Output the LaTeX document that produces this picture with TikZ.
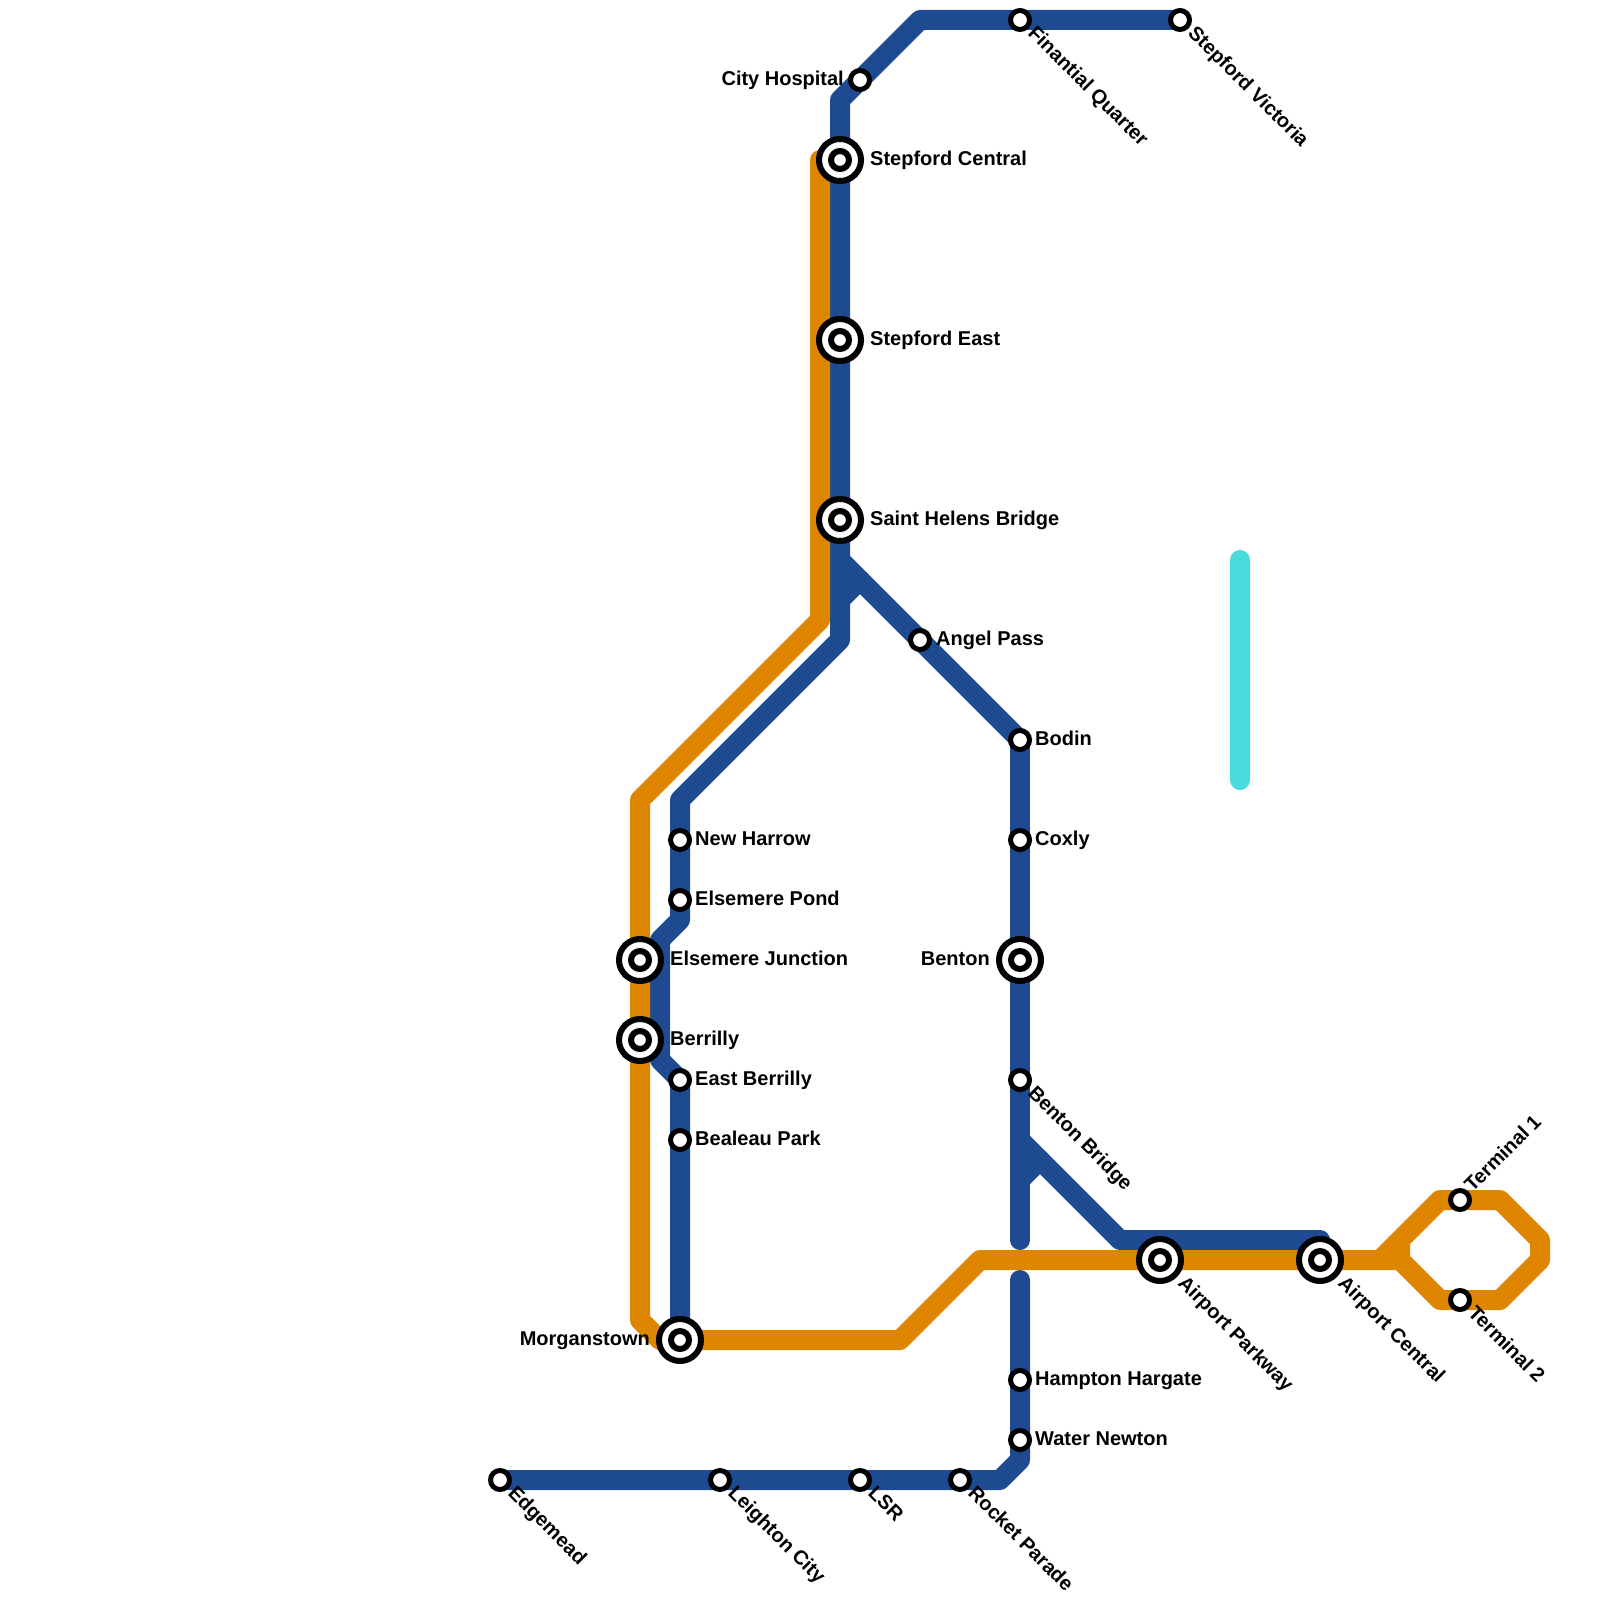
\documentclass[tikz,border=0pt]{standalone}
\usepackage{fontspec}
\setmainfont{Liberation Sans}
\usetikzlibrary{backgrounds}
\definecolor{lineblue}{HTML}{1D4A91}
\definecolor{lineorange}{HTML}{DF8600}
\definecolor{linecyan}{HTML}{48DBDB}
\tikzset{
  metro/.style={line width=20pt,line join=round,line cap=round},
  smallst/.style={circle,draw=black,fill=white,line width=5pt,minimum size=19pt,inner sep=0pt},
  bigouter/.style={circle,draw=black,fill=white,line width=6pt,minimum size=42pt,inner sep=0pt},
  biginner/.style={circle,draw=black,fill=white,line width=6pt,minimum size=18pt,inner sep=0pt},
  lab/.style={font=\bfseries\fontsize{20}{22}\selectfont,inner sep=0pt,text=black},
}
\newcommand{\smallnode}[2]{\node[smallst] (#1) at (#2) {};}
\newcommand{\bignode}[2]{\node[bigouter] (#1) at (#2) {};\node[biginner] (#1i) at (#2) {};}
\begin{document}
\begin{tikzpicture}[x=1pt,y=-1pt]
\useasboundingbox (0,0) rectangle (1600,1600);
% bends
\coordinate (b1) at (920,20);
\coordinate (b2) at (840,100);
\coordinate (b3) at (840,640);
\coordinate (b4) at (680,800);
\coordinate (b5) at (680,920);
\coordinate (b6) at (660,940);
\coordinate (b7) at (660,1060);
\coordinate (b8) at (840,560);
\coordinate (b9) at (860,580);
\coordinate (b10) at (840,600);
\coordinate (b11) at (1020,1240);
\coordinate (b12) at (1020,1140);
\coordinate (b13) at (1040,1160);
\coordinate (b14) at (1020,1180);
\coordinate (b15) at (1120,1240);
\coordinate (b16) at (1320,1240);
\coordinate (b17) at (1020,1280);
\coordinate (b18) at (1020,1460);
\coordinate (b19) at (1000,1480);
\coordinate (o1) at (820,160);
\coordinate (o2) at (820,620);
\coordinate (o3) at (640,800);
\coordinate (o4) at (640,1320);
\coordinate (o5) at (660,1340);
\coordinate (o6) at (900,1340);
\coordinate (o7) at (980,1260);
\coordinate (o8) at (1400,1260);
\coordinate (r0) at (1380,1260);
\coordinate (r1) at (1440,1200);
\coordinate (r2) at (1500,1200);
\coordinate (r3) at (1540,1240);
\coordinate (r4) at (1540,1260);
\coordinate (r5) at (1500,1300);
\coordinate (r6) at (1440,1300);
\coordinate (r7) at (1400,1240);
\coordinate (c1) at (1240,560);
\coordinate (c2) at (1240,780);
% stations
\smallnode{cityh}{860,80}
\smallnode{finq}{1020,20}
\smallnode{stepv}{1180,20}
\smallnode{angel}{920,640}
\smallnode{bodin}{1020,740}
\smallnode{coxly}{1020,840}
\smallnode{newh}{680,840}
\smallnode{elsp}{680,900}
\smallnode{eastb}{680,1080}
\smallnode{beal}{680,1140}
\smallnode{bentb}{1020,1080}
\smallnode{hamp}{1020,1380}
\smallnode{water}{1020,1440}
\smallnode{edge}{500,1480}
\smallnode{leigh}{720,1480}
\smallnode{lsr}{860,1480}
\smallnode{rocket}{960,1480}
\smallnode{term1}{1460,1200}
\smallnode{term2}{1460,1300}
\bignode{stepc}{840,160}
\bignode{stepe}{840,340}
\bignode{saint}{840,520}
\bignode{elsj}{640,960}
\bignode{berr}{640,1040}
\bignode{morg}{680,1340}
\bignode{bent}{1020,960}
\bignode{airp}{1160,1260}
\bignode{airc}{1320,1260}
% lines
\begin{scope}[on background layer]
\draw[metro,lineblue] (stepv.center) -- (b1) -- (b2) -- (b3) -- (b4) -- (b5) -- (b6) -- (b7) -- (eastb.center) -- (morg.center);
\draw[metro,lineblue] (b10) -- (b9);
\draw[metro,lineblue,line cap=butt] (b8) -- (bodin.center);
\draw[metro,lineblue] (bodin.center) -- (b11);
\draw[metro,lineblue] (b14) -- (b13);
\draw[metro,lineblue,line cap=butt] (b12) -- (b15);
\draw[metro,lineblue] (b15) -- (b16);
\draw[metro,lineblue] (b17) -- (b18) -- (b19) -- (edge.center);
\draw[metro,lineorange,line cap=round] (o1) -- (o2) -- (o3) -- (o4) -- (o5) -- (o6) -- (o7) -- (o8);
\draw[metro,lineorange,line cap=butt] (r0) -- (r1) -- (r2) -- (r3) -- (r4) -- (r5) -- (r6) -- (o8) -- (r7);
\draw[metro,linecyan] (c1) -- (c2);
\end{scope}
% labels
\node[lab,anchor=base east] (lcityh) at (844,85.5) {City Hospital};
\node[lab,anchor=base east] (lbent) at (990,965.5) {Benton};
\node[lab,anchor=base east] (lmorg) at (650,1345.5) {Morganstown};
\node[lab,anchor=base west] (lstepc) at (870,165.5) {Stepford Central};
\node[lab,anchor=base west] (lstepe) at (870,345.5) {Stepford East};
\node[lab,anchor=base west] (lsaint) at (870,525.5) {Saint Helens Bridge};
\node[lab,anchor=base west] (langel) at (936,645.5) {Angel Pass};
\node[lab,anchor=base west] (lbodin) at (1035,745.5) {Bodin};
\node[lab,anchor=base west] (lcoxly) at (1035,845.5) {Coxly};
\node[lab,anchor=base west] (lnewh) at (695,845.5) {New Harrow};
\node[lab,anchor=base west] (lelsp) at (695,905.5) {Elsemere Pond};
\node[lab,anchor=base west] (lelsj) at (670,965.5) {Elsemere Junction};
\node[lab,anchor=base west] (lberr) at (670,1045.5) {Berrilly};
\node[lab,anchor=base west] (leastb) at (695,1085.5) {East Berrilly};
\node[lab,anchor=base west] (lbeal) at (695,1145.5) {Bealeau Park};
\node[lab,anchor=base west] (lhamp) at (1035,1385.5) {Hampton Hargate};
\node[lab,anchor=base west] (lwater) at (1035,1445.5) {Water Newton};
\tikzset{dl/.style={lab,anchor=base west,rotate=-45}}
\node[dl] (lfinq) at (1027,34) {Finantial Quarter};
\node[dl] (lstepv) at (1187,34) {Stepford Victoria};
\node[dl] (lbentb) at (1027,1094) {Benton Bridge};
\node[dl] (lairp) at (1177,1284) {Airport Parkway};
\node[dl] (lairc) at (1337,1284) {Airport Central};
\node[dl] (lterm2) at (1467,1314) {Terminal 2};
\node[dl] (ledge) at (507,1494) {Edgemead};
\node[dl] (lleigh) at (727,1494) {Leighton City};
\node[dl] (llsr) at (867,1494) {LSR};
\node[dl] (lrocket) at (967,1494) {Rocket Parade};
\node[lab,anchor=base west,rotate=45] (lterm1) at (1472.5,1193) {Terminal 1};
\end{tikzpicture}
\end{document}
